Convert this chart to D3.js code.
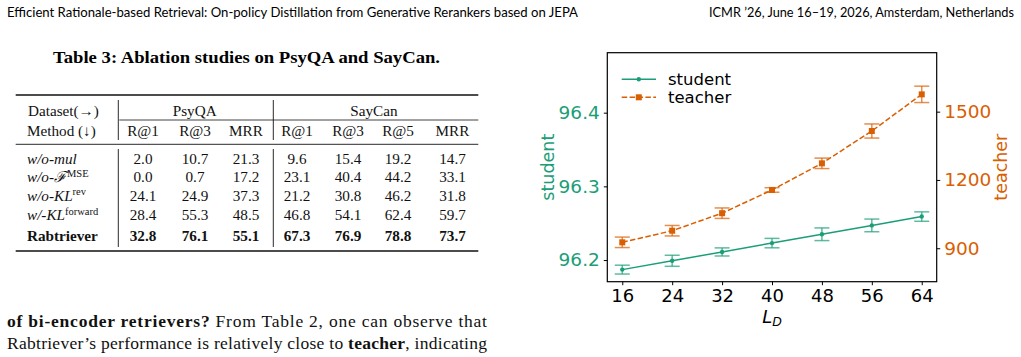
<!DOCTYPE html>
<html>
<head>
<meta charset="utf-8">
<script src="https://cdn.jsdelivr.net/npm/d3@7"></script>
<style>
  body { margin: 0; background: #fff; }
  svg { display: block; }
</style>
</head>
<body>
<svg id="page" width="1021" height="357"></svg>
<script>
/* Page: running header, Table 3 (ablations), body text, and the L_D dual-axis chart */

/* ---------- Table data ---------- */
const psyCols = ["R@1", "R@3", "MRR"];
const sayCols = ["R@1", "R@3", "R@5", "MRR"];
const methodBase = ["w/o-mul", "w/o-\u2131", "w/o-KL", "w/-KL", "Rabtriever"];
const methodSup = ["", "MSE", "rev", "forward", ""];
const psyVals = [
  [2.0, 10.7, 21.3],
  [0.0, 0.7, 17.2],
  [24.1, 24.9, 37.3],
  [28.4, 55.3, 48.5],
  [32.8, 76.1, 55.1],
];
const sayVals = [
  [9.6, 15.4, 19.2, 14.7],
  [23.1, 40.4, 44.2, 33.1],
  [21.2, 30.8, 46.2, 31.8],
  [46.8, 54.1, 62.4, 59.7],
  [67.3, 76.9, 78.8, 73.7],
];

/* ---------- Chart data ---------- */
const LD = [16, 24, 32, 40, 48, 56, 64];
const studentMean = [96.187, 96.199, 96.211, 96.223, 96.235, 96.247, 96.259];
const studentErr = [0.006, 0.0075, 0.0055, 0.0064, 0.0086, 0.0086, 0.0064];
const teacherMean = [926, 977, 1054, 1156, 1273, 1415, 1576];
const teacherErr = [23, 23, 23, 10, 23, 31, 36];
const studentTicks = [96.2, 96.3, 96.4];
const teacherTicks = [900, 1200, 1500];

const GREEN = "#1b9e77";
const ORANGE = "#d95f02";
const SERIF = "'Liberation Serif', 'DejaVu Serif', serif";
const SANS = "'DejaVu Sans', sans-serif";

const svg = d3.select("#page");
svg.append("rect").attr("width", 1021).attr("height", 357).attr("fill", "#fff");

/* ---------- Running header ---------- */
svg.append("text")
  .attr("x", 7).attr("y", 17)
  .attr("font-family", "Lato, 'Open Sans', sans-serif").attr("font-size", 12.5)
  .attr("textLength", 571).attr("lengthAdjust", "spacingAndGlyphs")
  .text("Efficient Rationale-based Retrieval: On-policy Distillation from Generative Rerankers based on JEPA");
svg.append("text")
  .attr("x", 709).attr("y", 17)
  .attr("font-family", "Lato, 'Open Sans', sans-serif").attr("font-size", 12.5)
  .attr("textLength", 305).attr("lengthAdjust", "spacingAndGlyphs")
  .text("ICMR \u201926, June 16\u201319, 2026, Amsterdam, Netherlands");

/* ---------- Table ---------- */
svg.append("text")
  .attr("x", 246.5).attr("y", 63).attr("text-anchor", "middle")
  .attr("font-family", SERIF).attr("font-weight", "bold").attr("font-size", 16)
  .attr("textLength", 387).attr("lengthAdjust", "spacingAndGlyphs")
  .text("Table 3: Ablation studies on PsyQA and SayCan.");

const T = { left: 15.7, right: 478.3, top: 95, cmid: 120, mid: 144.3, bottom: 251 };
const colX = [143, 195, 246, 297, 348, 398, 452.5];
const rowY = [158.5, 177, 195.5, 215, 235.5];
const vlines = [118.3, 273.3];

const tg = svg.append("g").attr("font-family", SERIF).attr("font-size", 15.2).attr("fill", "#111");

tg.append("line").attr("x1", T.left).attr("x2", T.right).attr("y1", T.top).attr("y2", T.top)
  .attr("stroke", "#111").attr("stroke-width", 1.6);
tg.append("line").attr("x1", vlines[0] + 1).attr("x2", T.right).attr("y1", T.cmid).attr("y2", T.cmid)
  .attr("stroke", "#111").attr("stroke-width", 0.8);
tg.append("line").attr("x1", T.left).attr("x2", T.right).attr("y1", T.mid).attr("y2", T.mid)
  .attr("stroke", "#111").attr("stroke-width", 0.9);
tg.append("line").attr("x1", T.left).attr("x2", T.right).attr("y1", T.bottom).attr("y2", T.bottom)
  .attr("stroke", "#111").attr("stroke-width", 1.6);
vlines.forEach(vx => {
  tg.append("line").attr("x1", vx).attr("x2", vx).attr("y1", 100).attr("y2", 140)
    .attr("stroke", "#111").attr("stroke-width", 0.9);
  tg.append("line").attr("x1", vx).attr("x2", vx).attr("y1", 149).attr("y2", 247)
    .attr("stroke", "#111").attr("stroke-width", 0.9);
});

// header rows
tg.append("text").attr("x", 28).attr("y", 115.5).text("Dataset(\u2192)");
tg.append("text").attr("x", 27).attr("y", 135.5).text("Method (\u2193)");
tg.append("text").attr("x", d3.mean(colX.slice(0, 3))).attr("y", 115.5).attr("text-anchor", "middle").text("PsyQA");
tg.append("text").attr("x", d3.mean(colX.slice(3))).attr("y", 115.5).attr("text-anchor", "middle").text("SayCan");
psyCols.concat(sayCols).forEach((c, i) => {
  tg.append("text").attr("x", colX[i]).attr("y", 135.5).attr("text-anchor", "middle").text(c);
});

// body rows
methodBase.forEach((m, r) => {
  const last = r === methodBase.length - 1;
  const t = tg.append("text").attr("x", 27).attr("y", rowY[r] + 5);
  if (last) {
    t.attr("font-weight", "bold").text(m);
  } else {
    t.append("tspan").attr("font-style", "italic").text(m);
    if (methodSup[r]) {
      t.append("tspan").attr("font-size", 10.5).attr("dy", -5.5).text(methodSup[r]);
    }
  }
  const vals = psyVals[r].concat(sayVals[r]);
  vals.forEach((v, c) => {
    tg.append("text").attr("x", colX[c]).attr("y", rowY[r] + 5)
      .attr("text-anchor", "middle")
      .attr("font-weight", last ? "bold" : null)
      .text(v.toFixed(1));
  });
});

/* ---------- Body text ---------- */
const l1 = svg.append("text").attr("x", 7).attr("y", 326.5)
  .attr("font-family", SERIF).attr("font-size", 17.5).attr("fill", "#111")
  .attr("textLength", 480).attr("lengthAdjust", "spacing");
l1.append("tspan").attr("font-weight", "bold").text("of bi-encoder retrievers?");
l1.append("tspan").text(" From Table 2, one can observe that");
const l2 = svg.append("text").attr("x", 7).attr("y", 348.5)
  .attr("font-family", SERIF).attr("font-size", 17.5).attr("fill", "#111")
  .attr("textLength", 480).attr("lengthAdjust", "spacing");
l2.append("tspan").text("Rabtriever\u2019s performance is relatively close to ");
l2.append("tspan").attr("font-weight", "bold").text("teacher");
l2.append("tspan").text(", indicating");

/* ---------- Chart ---------- */
const P = { left: 607.3, right: 936.7, top: 52.7, bottom: 281.7 };
const x = d3.scaleLinear().domain([13.6, 66.4]).range([P.left, P.right]);
const yS = d3.scaleLinear().domain([96.1706, 96.4814]).range([P.bottom, P.top]);
const yT = d3.scaleLinear().domain([753, 1759]).range([P.bottom, P.top]);

const cg = svg.append("g").attr("font-family", SANS);

function styleAxis(g, color, size) {
  g.select(".domain").remove();
  g.selectAll(".tick line").attr("stroke", "#000").attr("stroke-width", 1);
  g.selectAll(".tick text").attr("fill", color).attr("font-size", size).attr("font-family", SANS);
}

cg.append("g").attr("transform", `translate(${P.left},0)`)
  .call(d3.axisLeft(yS).tickValues(studentTicks).tickFormat(d3.format(".1f")).tickSize(3.5).tickPadding(4))
  .call(g => styleAxis(g, GREEN, 18.5));
cg.append("g").attr("transform", `translate(${P.right},0)`)
  .call(d3.axisRight(yT).tickValues(teacherTicks).tickFormat(d3.format("d")).tickSize(3.5).tickPadding(4))
  .call(g => styleAxis(g, ORANGE, 18.5));
cg.append("g").attr("transform", `translate(0,${P.bottom})`)
  .call(d3.axisBottom(x).tickValues(LD).tickFormat(d3.format("d")).tickSize(3.5).tickPadding(4))
  .call(g => styleAxis(g, "#000", 18));

// axis labels
cg.append("text")
  .attr("transform", `translate(554,${(P.top + P.bottom) / 2}) rotate(-90)`)
  .attr("text-anchor", "middle").attr("font-size", 17.5).attr("fill", GREEN).text("student");
cg.append("text")
  .attr("transform", `translate(1007,${(P.top + P.bottom) / 2}) rotate(-90)`)
  .attr("text-anchor", "middle").attr("font-size", 17.5).attr("fill", ORANGE).text("teacher");
const xl = cg.append("text").attr("x", (P.left + P.right) / 2).attr("y", 322.5)
  .attr("text-anchor", "middle").attr("font-size", 18).attr("fill", "#000");
xl.append("tspan").attr("font-style", "italic").text("L");
xl.append("tspan").attr("font-style", "italic").attr("font-size", 12.5).attr("dy", 3.5).text("D");

// series
const capW = 7.5;
function drawSeries(mean, err, y, color, dashed, marker) {
  const g = cg.append("g");
  const pts = LD.map((d, i) => ({ x: d, m: mean[i], e: err[i] }));
  g.append("path")
    .attr("d", d3.line().x(d => x(d.x)).y(d => y(d.m))(pts))
    .attr("fill", "none").attr("stroke", color).attr("stroke-width", 1.5)
    .attr("stroke-dasharray", dashed ? "5.5,2.4" : null);
  const eb = g.selectAll("g.eb").data(pts).join("g").attr("class", "eb")
    .attr("stroke", color).attr("stroke-opacity", 0.7).attr("stroke-width", 1.5);
  eb.append("line").attr("x1", d => x(d.x)).attr("x2", d => x(d.x))
    .attr("y1", d => y(d.m - d.e)).attr("y2", d => y(d.m + d.e));
  eb.append("line").attr("x1", d => x(d.x) - capW).attr("x2", d => x(d.x) + capW)
    .attr("y1", d => y(d.m - d.e)).attr("y2", d => y(d.m - d.e));
  eb.append("line").attr("x1", d => x(d.x) - capW).attr("x2", d => x(d.x) + capW)
    .attr("y1", d => y(d.m + d.e)).attr("y2", d => y(d.m + d.e));
  if (marker === "circle") {
    g.selectAll("circle").data(pts).join("circle")
      .attr("cx", d => x(d.x)).attr("cy", d => y(d.m)).attr("r", 2.2).attr("fill", color);
  } else {
    g.selectAll("rect.mk").data(pts).join("rect").attr("class", "mk")
      .attr("x", d => x(d.x) - 3).attr("y", d => y(d.m) - 3)
      .attr("width", 6).attr("height", 6).attr("fill", color);
  }
}
drawSeries(studentMean, studentErr, yS, GREEN, false, "circle");
drawSeries(teacherMean, teacherErr, yT, ORANGE, true, "square");

// frame
cg.append("rect").attr("x", P.left).attr("y", P.top)
  .attr("width", P.right - P.left).attr("height", P.bottom - P.top)
  .attr("fill", "none").attr("stroke", "#000").attr("stroke-width", 1.2);

// legend
const legend = [
  { name: "student", color: GREEN, dashed: false, marker: "circle" },
  { name: "teacher", color: ORANGE, dashed: true, marker: "square" },
];
const lg = cg.append("g");
legend.forEach((d, i) => {
  const ly = 79.3 + i * 18;
  lg.append("line").attr("x1", 621.7).attr("x2", 656).attr("y1", ly).attr("y2", ly)
    .attr("stroke", d.color).attr("stroke-width", 1.5)
    .attr("stroke-dasharray", d.dashed ? "5.5,2.4" : null);
  if (d.marker === "circle") {
    lg.append("circle").attr("cx", 638.8).attr("cy", ly).attr("r", 2.2).attr("fill", d.color);
  } else {
    lg.append("rect").attr("x", 635.8).attr("y", ly - 3).attr("width", 6).attr("height", 6).attr("fill", d.color);
  }
  lg.append("text").attr("x", 668).attr("y", ly + 6).attr("font-size", 16.5).attr("fill", "#000").text(d.name);
});
</script>
</body>
</html>
